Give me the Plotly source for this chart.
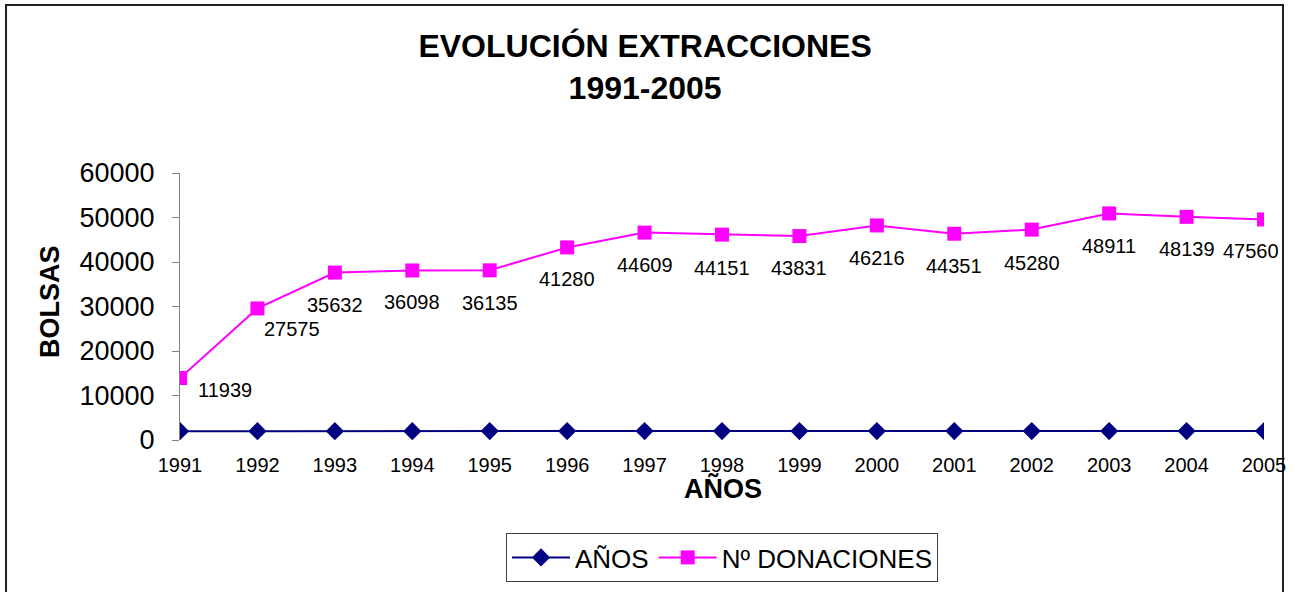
import plotly.graph_objects as go

# ---- data ----
years = ["1991", "1992", "1993", "1994", "1995", "1996", "1997", "1998",
         "1999", "2000", "2001", "2002", "2003", "2004", "2005"]
anos = [1991, 1992, 1993, 1994, 1995, 1996, 1997, 1998,
        1999, 2000, 2001, 2002, 2003, 2004, 2005]
donaciones = [11939, 27575, 35632, 36098, 36135, 41280, 44609, 44151,
              43831, 46216, 44351, 45280, 48911, 48139, 47560]
y_ticks = [0, 10000, 20000, 30000, 40000, 50000, 60000]

# label offsets (styling only)
label_dx = [45, 35, 0, 0, 0, 0, 0, 0, 0, 0, 0, 0, 0, 0, -13]
label_dy = [-12, -21, -32, -32, -33, -32, -32, -33, -32, -33, -32, -33, -33, -32, -32]

FONT = "Liberation Sans, Arial, sans-serif"
NAVY = "#000080"
PINK = "#FF00FF"

fig = go.Figure()
fig.add_trace(go.Scatter(
    x=years, y=anos, name="AÑOS", mode="lines+markers",
    stackgroup="one", fill="none",
    line=dict(color=NAVY, width=2),
    marker=dict(symbol="diamond", size=14, color=NAVY),
))
fig.add_trace(go.Scatter(
    x=years, y=donaciones, name="Nº DONACIONES", mode="lines+markers",
    stackgroup="one", fill="none",
    line=dict(color=PINK, width=2),
    marker=dict(symbol="square", size=14, color=PINK),
))

annotations = []
for i, (a, d) in enumerate(zip(anos, donaciones)):
    annotations.append(dict(
        x=i, y=a + d, xref="x", yref="y", text=str(d), showarrow=False,
        xshift=label_dx[i], yshift=label_dy[i],
        font=dict(family=FONT, size=20, color="black"),
    ))
annotations.append(dict(
    x=-0.1199, y=0.517, xref="paper", yref="paper", text="<b>BOLSAS</b>",
    textangle=-90, showarrow=False, xanchor="center", yanchor="middle",
    font=dict(family=FONT, size=27, color="black"),
))
annotations.append(dict(
    x=0.501, y=-0.1835, xref="paper", yref="paper", text="<b>AÑOS</b>",
    showarrow=False, xanchor="center", yanchor="middle",
    font=dict(family=FONT, size=27, color="black"),
))

fig.update_layout(
    template="none",
    width=1298, height=592,
    paper_bgcolor="white", plot_bgcolor="white",
    margin=dict(l=180, r=34, t=173, b=152),
    font=dict(family=FONT, color="black"),
    title=dict(
        text="<b>EVOLUCIÓN EXTRACCIONES<br>1991-2005</b>",
        x=0.497, xref="container", xanchor="center",
        y=1 - 57 / 592, yref="container", yanchor="top",
        font=dict(family=FONT, size=32, color="black"),
    ),
    xaxis=dict(
        type="category", range=[0, 14], showline=False, showgrid=False,
        zeroline=False, ticks="", tickfont=dict(family=FONT, size=20, color="black"),
        ticklabelstandoff=11, automargin=False,
    ),
    yaxis=dict(
        range=[0, 60000], tickvals=y_ticks, tickformat="d",
        showline=True, linecolor="#808080", linewidth=1,
        ticks="outside", ticklen=7, tickcolor="#808080", tickwidth=1,
        showgrid=False, zeroline=False,
        tickfont=dict(family=FONT, size=27, color="black"),
        ticklabelstandoff=12, automargin=False,
    ),
    showlegend=True,
    legend=dict(
        orientation="h", xref="container", x=722 / 1298, xanchor="center",
        yref="container", y=1 - 533 / 592, yanchor="top",
        bordercolor="#404040", borderwidth=1, bgcolor="white",
        font=dict(family=FONT, size=26, color="black"),
        traceorder="normal", itemwidth=58,
        tracegroupgap=0, valign="middle",
    ),
    annotations=annotations,
    shapes=[dict(
        type="rect", xref="paper", yref="paper",
        x0=-0.1605, x1=1.0175, y0=-0.7, y1=1.6292,
        line=dict(color="#202020", width=2), fillcolor="rgba(0,0,0,0)",
        layer="below",
    )],
)

fig.write_html("out.html", config={"displayModeBar": False},
               post_script="document.body.style.margin='0';")
